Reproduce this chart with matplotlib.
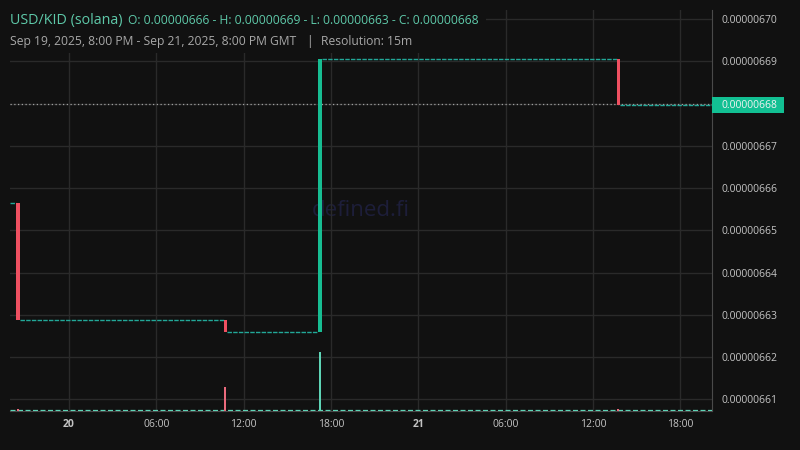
import matplotlib
matplotlib.use("Agg")
import matplotlib.pyplot as plt
import matplotlib.dates as mdates
from matplotlib.patches import Rectangle
from datetime import datetime, timedelta

# ---- data ----
candle_times = ["2025-09-19 20:30", "2025-09-20 10:45", "2025-09-20 17:15", "2025-09-21 13:45"]
candle_open = [6.6565e-6, 6.6288e-6, 6.6260e-6, 6.6907e-6]
candle_close = [6.6288e-6, 6.6260e-6, 6.6907e-6, 6.6798e-6]
volumes = [2.0, 24.0, 59.0, 2.0]
y_ticks = [6.61e-6, 6.62e-6, 6.63e-6, 6.64e-6, 6.65e-6, 6.66e-6, 6.67e-6, 6.68e-6, 6.69e-6, 6.70e-6]
x_tick_labels = ["20", "06:00", "12:00", "18:00", "21", "06:00", "12:00", "18:00"]
x_start = "2025-09-19 19:57"
x_end = "2025-09-21 20:11"
last_price = 6.68e-6
title_pair = "USD/KID (solana)"
title_ohlc = "O: 0.00000666 - H: 0.00000669 - L: 0.00000663 - C: 0.00000668"
subtitle_range = "Sep 19, 2025, 8:00 PM - Sep 21, 2025, 8:00 PM GMT"
subtitle_res = "Resolution: 15m"

fmt = "%Y-%m-%d %H:%M"
ct = [datetime.strptime(t, fmt) for t in candle_times]
xs = datetime.strptime(x_start, fmt)
xe = datetime.strptime(x_end, fmt)

BG = "#111111"
GRID = "#2a2a2a"
UP = "#17bd92"
DOWN = "#ef5061"
UPV = "#5ed4b6"
DOWNV = "#ea6a7c"
FLAT = "#22a898"
LBL = "#c4c4c4"

plt.rcParams["font.family"] = ["Open Sans", "DejaVu Sans"]

fig = plt.figure(figsize=(8, 4.5), dpi=100, facecolor=BG)
W, H = 800, 450
ax = fig.add_axes([10 / W, 1 - 411 / H, 702 / W, 401 / H])
ax.set_facecolor(BG)

# volume axis
vax = ax.twinx()
vax.set_ylim(0, 401)
vax.axis("off")

ax.set_xlim(xs, xe)
ax.set_ylim(6.6072e-6, 6.7022e-6)
vax.set_xlim(xs, xe)

# grid & ticks
ax.yaxis.tick_right()
ax.yaxis.set_label_position("right")
ax.set_yticks(y_ticks)
ax.set_yticklabels([f"{v:.8f}" for v in y_ticks])
xt = [datetime(2025, 9, 20, 0) + timedelta(hours=6 * i) for i in range(len(x_tick_labels))]
ax.set_xticks(xt)
ax.set_xticklabels(x_tick_labels)
for lbl in ax.get_xticklabels():
    if lbl.get_text() in ("20", "21"):
        lbl.set_fontweight("bold")
        lbl.set_color("#e0e0e0")
ax.grid(True, color=GRID, linewidth=1, zorder=0)
ax.tick_params(axis="y", length=0, pad=7.2, labelsize=7.5, labelcolor=LBL,
               left=False, labelleft=False, right=False, labelright=True)
ax.tick_params(axis="x", length=0, pad=6, labelsize=7.5, labelcolor=LBL)
for s in ["left", "top"]:
    ax.spines[s].set_visible(False)
vax.spines["left"].set_visible(False)
ax.spines["right"].set_color("#4a4a4a")
ax.spines["bottom"].set_color("#4a4a4a")

vw = timedelta(minutes=8)
vax.hlines(1.2, xs, xe, colors=UPV, linewidth=0.9, linestyles=(0, (4, 2)), zorder=2)
for t, o, c, v in zip(ct, candle_open, candle_close, volumes):
    col = UPV if c >= o else DOWNV
    vax.bar(t, v, width=vw, color=col, align="center", zorder=3)

# flat (doji) stretches between active candles
seg_start = [xs] + ct
seg_end = ct + [xe]
seg_level = [candle_open[0]] + candle_close
bw = timedelta(minutes=13)
for a, b, lvl in zip(seg_start, seg_end, seg_level):
    ax.hlines(lvl, a + bw / 2 if a != xs else a, b - bw / 2 if b != xe else b,
              colors=FLAT, linewidth=1, linestyles=(0, (3.2, 0.9)), zorder=3)

# last price line
ax.axhline(last_price, color="#a0a0a0", linewidth=0.9, linestyle=(0, (1, 2)), zorder=2)

# candles
for t, o, c in zip(ct, candle_open, candle_close):
    col = UP if c >= o else DOWN
    x0 = mdates.date2num(t - bw / 2)
    ax.add_patch(Rectangle((x0, min(o, c)), mdates.date2num(t + bw / 2) - x0, abs(c - o),
                           facecolor=col, edgecolor="none", zorder=4))

# watermark
ax.text(0.5, 0.5, "defined.fi", transform=ax.transAxes, fontsize=16, color="#1d1e3a",
        ha="center", va="center", zorder=1)

# legend background box covering grid
fig.patches.append(Rectangle((0, 1 - 53 / H), 486 / W, 53 / H, transform=fig.transFigure,
                             facecolor=BG, edgecolor="none", zorder=5))

# price label
fig.patches.append(Rectangle((712 / W, 1 - 113 / H), 72 / W, 16 / H, transform=fig.transFigure,
                             facecolor="#12c093", edgecolor="none", zorder=6))
fig.text(722 / W, 1 - 105 / H, f"{last_price:.8f}", color="#f2f2f2", fontsize=7.5,
         ha="left", va="center", zorder=7)

# titles
fig.text(10 / W, 1 - 24 / H, title_pair, color="#5ec9a9", fontsize=10.3, ha="left", va="baseline", zorder=7)
fig.text(128 / W, 1 - 24 / H, title_ohlc, color="#5ec9a9", fontsize=8.7, ha="left", va="baseline", zorder=7)
fig.text(10 / W, 1 - 45 / H, subtitle_range, color="#a8a8a8", fontsize=8.7, ha="left", va="baseline", zorder=7)
fig.text(306 / W, 1 - 45 / H, "|", color="#a8a8a8", fontsize=8.7, ha="left", va="baseline", zorder=7)
fig.text(321 / W, 1 - 45 / H, subtitle_res, color="#a8a8a8", fontsize=8.7, ha="left", va="baseline", zorder=7)

fig.savefig("out.png", dpi=100, facecolor=BG)
